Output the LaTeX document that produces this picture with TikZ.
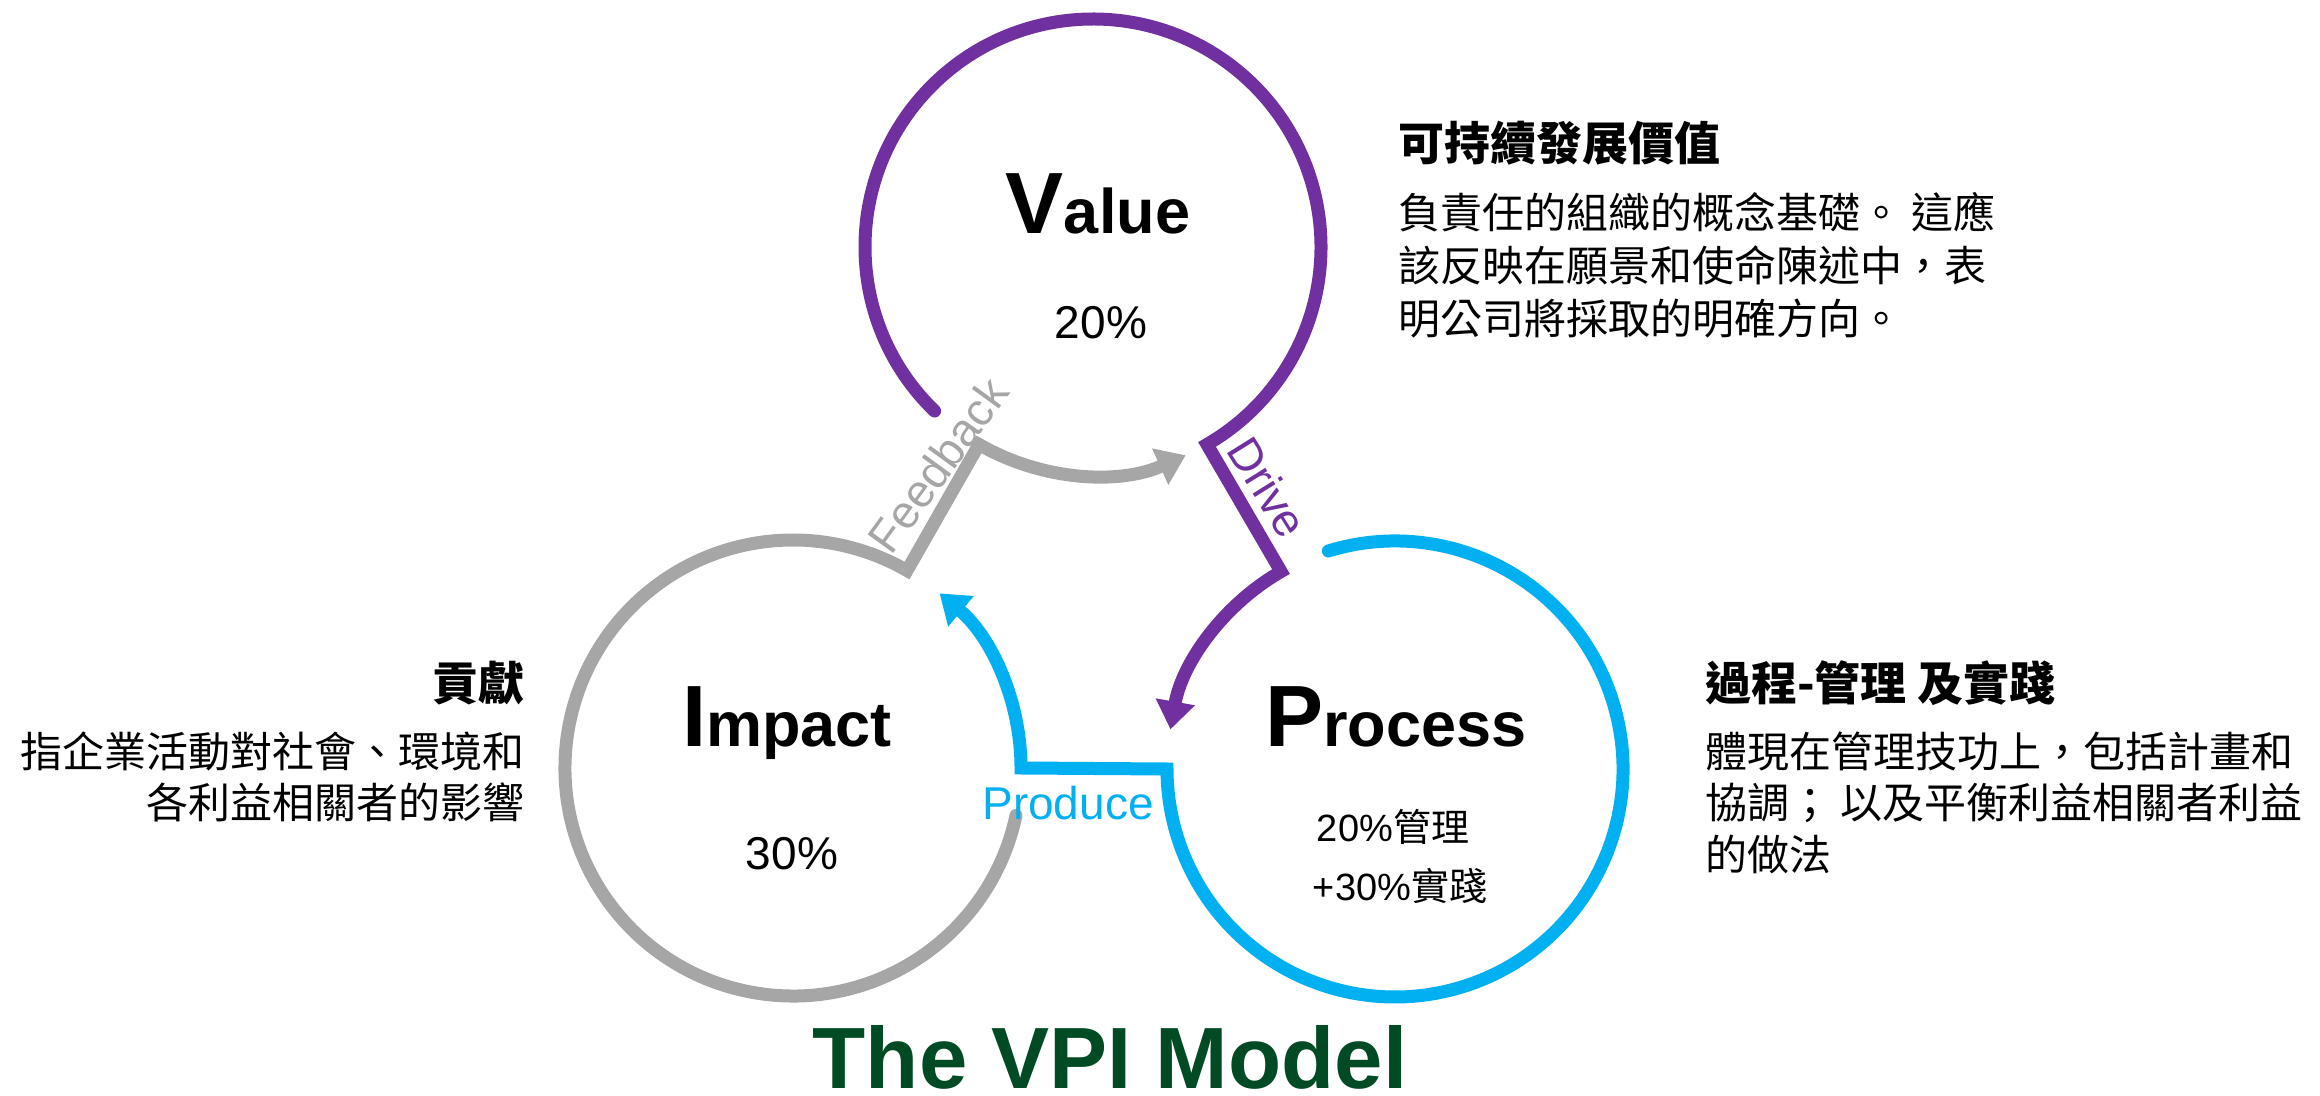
\documentclass[tikz,border=0pt]{standalone}
\usepackage{fontspec}
\setmainfont{Liberation Sans}
\newfontfamily\cjk{Noto Sans CJK TC}
\usetikzlibrary{calc,arrows.meta}
\definecolor{vpurple}{RGB}{112,48,160}
\definecolor{vblue}{RGB}{0,176,240}
\definecolor{vgray}{RGB}{166,166,166}
\definecolor{vgreen}{RGB}{0,75,35}
\begin{document}
\begin{tikzpicture}[x=1pt,y=1pt,
  ring/.style={line width=13pt, line cap=round, line join=miter, miter limit=10},
  tipped/.style={-{Triangle[width=38pt,length=28pt]}},
  lbl/.style={font=\fontsize{46}{46}\selectfont, inner sep=0pt},
  body/.style={font=\cjk\fontsize{42}{53}\selectfont, inner sep=0pt},
  head/.style={font=\cjk\bfseries\fontsize{46}{46}\selectfont, inner sep=0pt},
  big/.style={inner sep=0pt, anchor=base},
  pct/.style={font=\fontsize{46}{46}\selectfont, inner sep=0pt, anchor=base}]
\useasboundingbox (0,0) rectangle (2320,1095);
\def\ringr{228}
\coordinate (V) at (1093,848);
\coordinate (I) at (793,327);
\coordinate (P) at (1395,326);
% Value -> Process (Drive)
\draw[ring, vpurple, tipped] ($(V)+(226:\ringr)$) arc[start angle=226, end angle=-60, radius=\ringr]
  -- ($(P)+(120:\ringr)$) arc[start angle=120, end angle=170, radius=\ringr];
% Process -> Impact (Produce)
\draw[ring, vblue, tipped] ($(P)+(107:\ringr)$) arc[start angle=107, end angle=-180, radius=\ringr]
  -- ($(I)+(0:\ringr)$) arc[start angle=0, end angle=50, radius=\ringr];
% Impact -> Value (Feedback)
\draw[ring, vgray, tipped] ($(I)+(-12:\ringr)$) arc[start angle=-12, end angle=-300, radius=\ringr]
  -- ($(V)+(240:\ringr)$) arc[start angle=240, end angle=294, radius=\ringr];
% circle texts
\node[big] (valuet) at (1098,861) {\bfseries\fontsize{87}{87}\selectfont V\fontsize{63}{63}\selectfont alue};
\node[pct] (valuep) at (1101,756) {20\%};
\node[big] (impactt) at (787,348) {\bfseries\fontsize{87}{87}\selectfont I\fontsize{63}{63}\selectfont mpact};
\node[pct] (impactp) at (792,225) {30\%};
\node[big] (processt) at (1396,348) {\bfseries\fontsize{87}{87}\selectfont P\fontsize{63}{63}\selectfont rocess};
\node[inner sep=0pt, anchor=base, font=\fontsize{38}{38}\selectfont] (procA) at (1393,253) {20\%{\cjk 管理}};
\node[inner sep=0pt, anchor=base, font=\fontsize{38}{38}\selectfont] (procB) at (1400,194) {+30\%{\cjk 實踐}};
% connector labels
\node[lbl, text=vblue] (produce) at (1068,292) {Produce};
\node[lbl, text=vgray, rotate=54] (feedback) at (938,630) {Feedback};
\node[lbl, text=vpurple, rotate=-58] (drive) at (1268,608) {Drive};
% side texts
\node[head, anchor=base west] (vhead) at (1398,934) {可持續發展價值};
\node[body, anchor=base west] (vb1) at (1398,866) {負責任的組織的概念基礎。 這應};
\node[body, anchor=base west] (vb2) at (1398,813) {該反映在願景和使命陳述中，表};
\node[body, anchor=base west] (vb3) at (1398,760) {明公司將採取的明確方向。};
\node[head, anchor=base east] (ihead) at (525,394) {貢獻};
\node[body, anchor=base east] (ib1) at (525,327) {指企業活動對社會、環境和};
\node[body, anchor=base east] (ib2) at (525,276) {各利益相關者的影響};
\node[head, anchor=base west] (phead) at (1705,394) {過程-管理 及實踐};
\node[body, anchor=base west] (pb1) at (1705,327) {體現在管理技功上，包括計畫和};
\node[body, anchor=base west] (pb2) at (1705,276) {協調； 以及平衡利益相關者利益};
\node[body, anchor=base west] (pb3) at (1705,224) {的做法};
% title
\node[big, text=vgreen] (title) at (1110,7) {\bfseries\fontsize{87}{87}\selectfont The VPI Model};
\end{tikzpicture}
\end{document}
